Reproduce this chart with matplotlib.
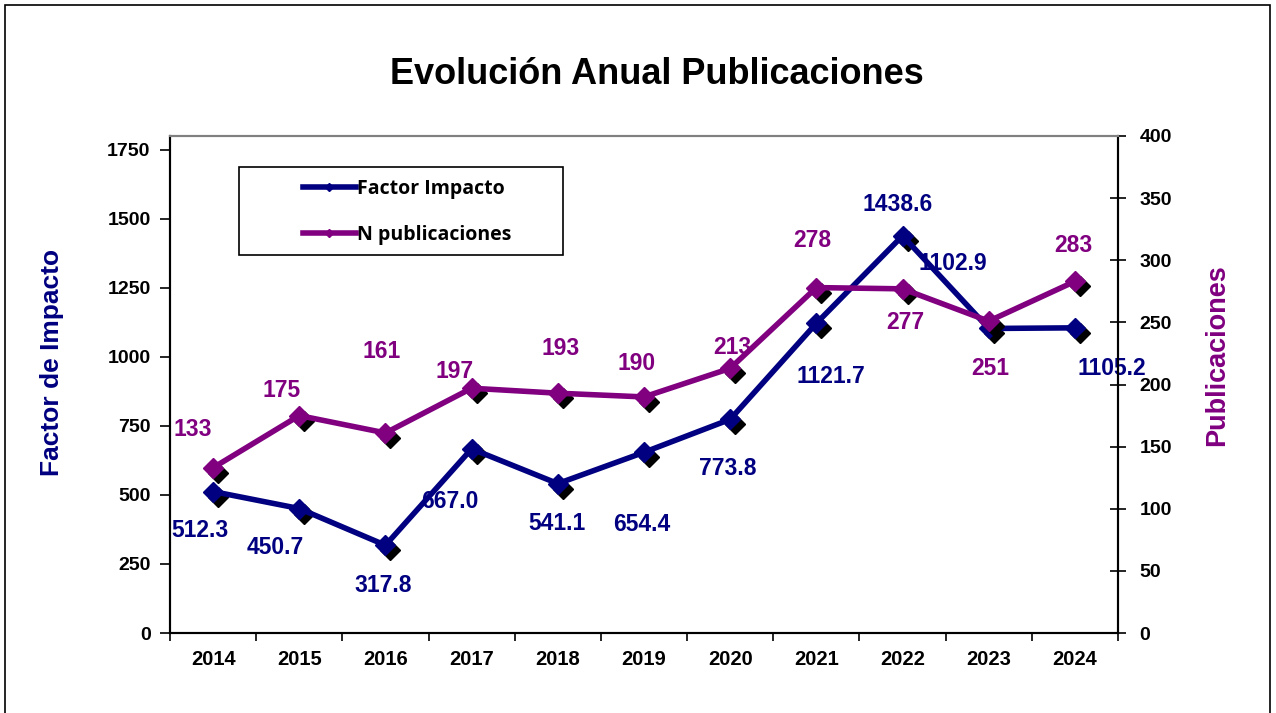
import matplotlib
matplotlib.use('Agg')
import matplotlib.pyplot as plt
from matplotlib.patches import Rectangle
from matplotlib.lines import Line2D

years = ['2014', '2015', '2016', '2017', '2018', '2019', '2020', '2021', '2022', '2023', '2024']
factor = [512.3, 450.7, 317.8, 667.0, 541.1, 654.4, 773.8, 1121.7, 1438.6, 1102.9, 1105.2]
pubs = [133, 175, 161, 197, 193, 190, 213, 278, 277, 251, 283]

# label offsets in pixels (dx, dy) relative to each point
factor_off = [(-13, -39), (-24, -39), (-2, -40), (-22, -53), (-1, -40), (-2, -72),
              (-2, -49), (15, -53), (-5, 31), (-36, 65), (37, -41)]
pubs_off = [(-20, 38), (-18, 25), (-4, 81), (-17, 17), (3, 45), (-7, 33),
            (2, 21), (-4, 47), (3, -34), (2, -47), (-2, 36)]

navy = '#000080'
purple = '#800080'
plt.rcParams['font.family'] = ['Liberation Sans', 'DejaVu Sans']

W, H = 1276, 713
fig = plt.figure(figsize=(W / 100, H / 100), dpi=100)
fig.patches.append(Rectangle((5 / W, -0.01), 1265 / W, 1 - 5 / H + 0.01, transform=fig.transFigure,
                             fill=False, edgecolor='black', linewidth=1.2))
ax = fig.add_axes([170 / W, 80 / H, 948 / W, 497 / H])
ax2 = ax.twinx()

x = list(range(len(years)))

def draw(a, vals, color, offs, fmt):
    # black shadow markers, then the line
    shadow = matplotlib.transforms.offset_copy(a.transData, fig=fig, x=5, y=-5, units='dots')
    a.plot(x, vals, linestyle='none', marker='D', markersize=10.5, color='black', transform=shadow, zorder=2)
    a.plot(x, vals, color=color, linewidth=4, marker='D', markersize=10.5, zorder=3)
    for xi, v, (dx, dy) in zip(x, vals, offs):
        a.annotate(fmt(v), (xi, v), xytext=(dx, dy), textcoords='offset pixels',
                   ha='center', va='center', color=color, fontsize=16.5, fontweight='bold', zorder=4)

draw(ax, factor, navy, factor_off, lambda v: '%.1f' % v)
draw(ax2, pubs, purple, pubs_off, lambda v: '%d' % v)

ax.set_xlim(-0.5, len(years) - 0.5)
ax.set_ylim(0, 1800)
ax2.set_ylim(0, 400)
ax.set_yticks(range(0, 1751, 250))
ax2.set_yticks(range(0, 401, 50))
ax.set_xticks(x)
ax.set_xticklabels(years)
ax.set_xticks([i - 0.5 for i in range(len(years) + 1)], minor=True)
ax.tick_params(axis='x', which='major', length=0, pad=12, labelsize=14.5)
ax.tick_params(axis='x', which='minor', length=6, width=1.2, direction='out')
ax.tick_params(axis='y', length=7, width=1.2, labelsize=14, pad=7)
ax2.tick_params(axis='y', length=11, width=1.2, labelsize=14, pad=10, direction='inout')
for t in ax.get_xticklabels() + ax.get_yticklabels() + ax2.get_yticklabels():
    t.set_fontweight('bold')

for a in (ax, ax2):
    for s in ('left', 'bottom', 'right'):
        a.spines[s].set_linewidth(1.5)
    a.spines['top'].set_color('#808080')
    a.spines['top'].set_linewidth(1.5)

fig.text(52 / W, 1 - 362 / H, 'Factor de Impacto', rotation=90, ha='center', va='center',
         color=navy, fontsize=19, fontweight='bold')
fig.text(1217 / W, 1 - 355 / H, 'Publicaciones', rotation=90, ha='center', va='center',
         color=purple, fontsize=19.5, fontweight='bold')

fig.text(657 / W, 1 - 75 / H, 'Evolución Anual Publicaciones', ha='center', va='center',
         fontsize=26, fontweight='bold')

# legend: frame drawn separately for the wide Excel-style padding
fig.patches.append(Rectangle((239 / W, 1 - 255 / H), 324 / W, 88 / H, transform=fig.transFigure,
                             fill=False, edgecolor='black', linewidth=1.2, zorder=5))
handles = [Line2D([], [], color=navy, linewidth=4, marker='D', markersize=4),
           Line2D([], [], color=purple, linewidth=4, marker='D', markersize=4)]
leg = fig.legend(handles, ['Factor Impacto', 'N publicaciones'], loc='center left',
                 bbox_to_anchor=(303 / W, 1 - 212 / H), frameon=False,
                 borderpad=0, labelspacing=1.35, handlelength=2.7,
                 handletextpad=0.1, borderaxespad=0,
                 prop={'family': 'Open Sans', 'weight': 'bold', 'size': 14})

fig.savefig('out.png', dpi=100)
